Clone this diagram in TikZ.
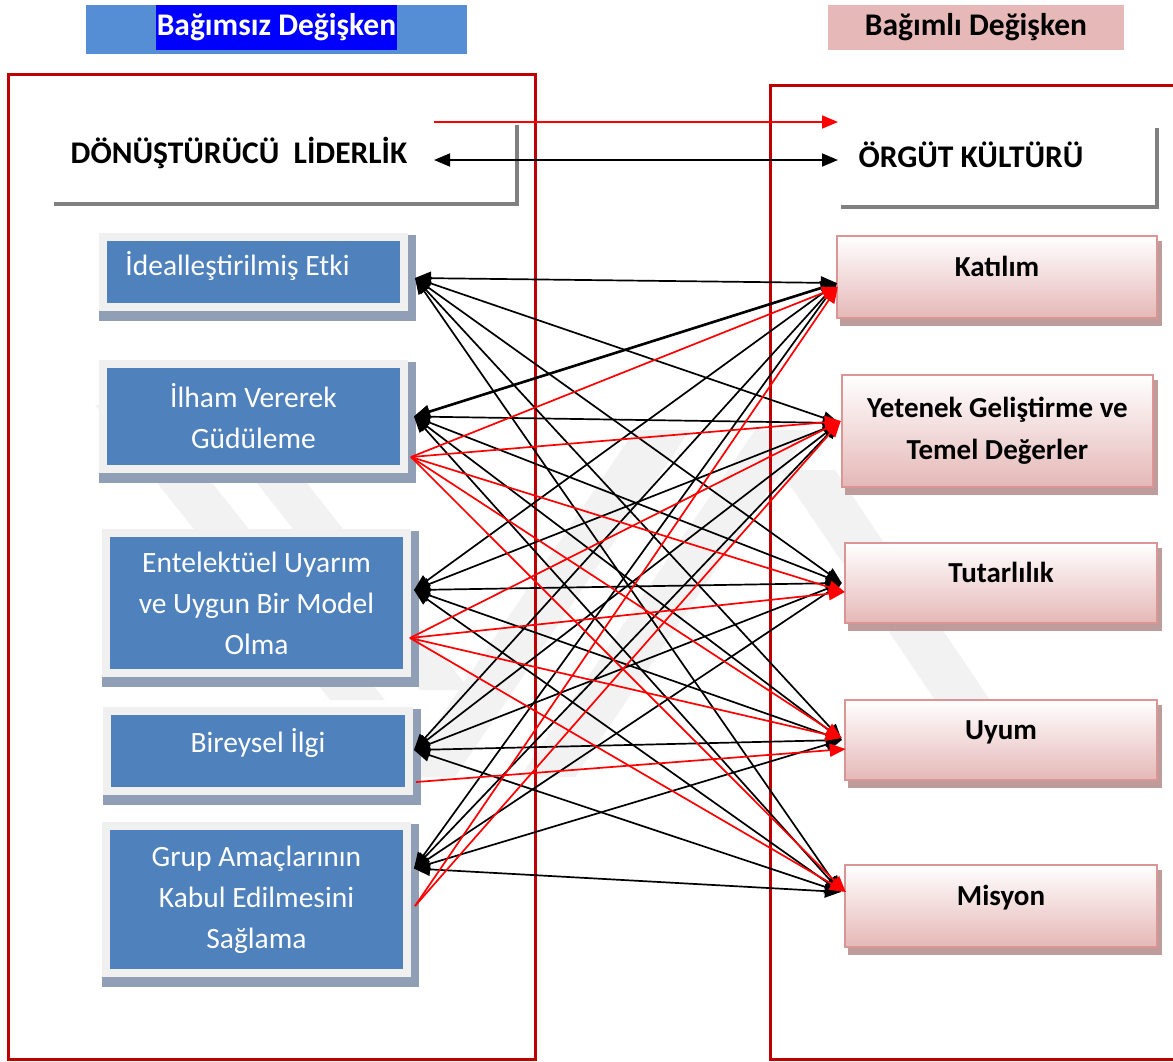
\documentclass[tikz,border=0pt]{standalone}
\usepackage{fontspec}
\setmainfont{Carlito}
\usetikzlibrary{arrows.meta,calc}
\definecolor{framered}{HTML}{C00000}
\definecolor{hdrblue}{HTML}{558ED5}
\definecolor{hlblue}{HTML}{0000FF}
\definecolor{hdrpink}{HTML}{E6B9B8}
\definecolor{boxblue}{HTML}{4F81BD}
\definecolor{framegray}{HTML}{F0F0F0}
\definecolor{shadowblue}{HTML}{909FB5}
\definecolor{pinkbot}{HTML}{E5B8B7}
\definecolor{pinkline}{HTML}{D99694}
\definecolor{pinkshadow}{HTML}{BE9C9C}
\definecolor{wmgray}{HTML}{F2F2F2}
\definecolor{brgray}{HTML}{808080}
\pgfdeclarelayer{wmk}
\pgfdeclarelayer{shd}
\pgfsetlayers{wmk,shd,main}
\begin{document}
\begin{tikzpicture}[x=1pt,y=-1pt,
  lbox/.style={draw=framegray, line width=8pt, fill=boxblue, text=white, align=center,
    font=\fontsize{29.5}{41}\selectfont, minimum width=301pt, inner sep=0pt},
  rbox/.style={draw=pinkline, line width=2.5pt, top color=white, bottom color=pinkbot,
    align=center, font=\bfseries\fontsize{29}{42}\selectfont, inner sep=0pt},
  title/.style={font=\bfseries\fontsize{31.5}{36}\selectfont, inner sep=0pt},
  blk/.style={line width=1.7pt, black, {Triangle[length=16pt,width=13pt]}-{Triangle[length=16pt,width=13pt]}},
  rd/.style={line width=1.7pt, red, -{Triangle[length=16pt,width=13pt]}},
  bracket/.style={draw=brgray, line width=4pt},
  frm/.style={draw=framered, line width=3pt},
]
\useasboundingbox (0,0) rectangle (1173,1061);

% watermark
\begin{pgfonlayer}{wmk}
  \fill[wmgray] (95,405) -- (150,405) -- (385,700) -- (330,700) -- cycle;
  \fill[wmgray] (215,430) -- (265,430) -- (470,690) -- (420,690) -- cycle;
  \fill[wmgray] (400,777) -- (455,777) -- (690,430) -- (635,430) -- cycle;
  \fill[wmgray] (520,777) -- (575,777) -- (810,430) -- (755,430) -- cycle;
  \fill[wmgray] (780,470) -- (835,470) -- (1000,715) -- (945,715) -- cycle;
\end{pgfonlayer}

% header labels
\node[fill=hdrblue, minimum width=381pt, minimum height=49pt, inner sep=0pt] (hb1) at (276.5,29.5) {};
\node[fill=hlblue, text=white, font=\bfseries\fontsize{31.5}{36}\selectfont, inner xsep=1pt, inner ysep=0pt,
  minimum height=45pt] (hl1) at (276.5,27.5) {Bağımsız Değişken};
\node[fill=hdrpink, minimum width=296pt, minimum height=45pt, inner sep=0pt,
  font=\bfseries\fontsize{31.5}{36}\selectfont] (hb2) at (976,27.5) {Bağımlı Değişken};

% red frames
\draw[frm] (8,74) rectangle (535,1059);
\draw[frm] (1180,85) -- (770,85) -- (770,1059) -- (1180,1059);

% titles
\node[title] (tl) at (239,153) {DÖNÜŞTÜRÜCÜ\ \ LİDERLİK};
\node[title] (tr) at (971,155) {ÖRGÜT KÜLTÜRÜ};
\draw[bracket] (54,204) -- (517,204) -- (517,125);
\draw[bracket] (841,207) -- (1157,207) -- (1157,128);

\coordinate (ta) at (434,122);
\coordinate (tb) at (838,122);
\coordinate (tc) at (434,160);
\coordinate (td) at (838,160);
\draw[rd] (ta) -- (tb);
\draw[blk] (tc) -- (td);

% left boxes
\node[lbox, minimum height=70pt, text height=22pt, text depth=16pt] (l1) at (253.5,272) {İdealleştirilmiş Etki\hspace*{32pt}};
\node[lbox, minimum height=105pt] (l2) at (253.5,416.5) {İlham Vererek\\Güdüleme};
\node[lbox, minimum height=140pt] (l3) at (256.5,603) {Entelektüel Uyarım\\ve Uygun Bir Model\\Olma};
\node[lbox, minimum height=80pt, minimum width=302pt, text height=22pt, text depth=20pt] (l4) at (258,751) {Bireysel İlgi};
\node[lbox, minimum height=147pt] (l5) at (256.5,899.5) {Grup Amaçlarının\\Kabul Edilmesini\\Sağlama};

% right boxes
\node[rbox, minimum width=320pt, minimum height=82pt, text height=20pt, text depth=22pt] (r1) at (997,277) {Katılım};
\node[rbox, minimum width=311pt, minimum height=112pt] (r2) at (997.5,431) {Yetenek Geliştirme ve\\Temel Değerler};
\node[rbox, minimum width=312pt, minimum height=80pt, text height=20pt, text depth=22pt] (r3) at (1001,583) {Tutarlılık};
\node[rbox, minimum width=312pt, minimum height=80pt, text height=20pt, text depth=22pt] (r4) at (1001,740) {Uyum};
\node[rbox, minimum width=312pt, minimum height=82pt, text height=20pt, text depth=22pt] (r5) at (1001,906) {Misyon};

% shadows
\begin{pgfonlayer}{shd}
  \foreach \n in {l1,l2,l3,l4,l5}
    \fill[shadowblue] ($(\n.north west)+(0,2)$) rectangle ($(\n.south east)+(8,10)$);
  \foreach \n in {r1,r2,r3,r4,r5}
    \fill[pinkshadow] ($(\n.north west)+(4,6)$) rectangle ($(\n.south east)+(4,7)$);
\end{pgfonlayer}

% connector end points
\coordinate (L1) at ($(l1.east)+(7,6)$);
\coordinate (L2) at ($(l2.east)+(6,0)$);
\coordinate (L3) at ($(l3.east)+(3,-13)$);
\coordinate (L4) at ($(l4.east)+(1,-1)$);
\coordinate (L5) at ($(l5.east)+(3,-31)$);
\coordinate (R1) at ($(r1.west)+(1,6)$);
\coordinate (R2) at ($(r2.west)+(-2,-8)$);
\coordinate (R3) at ($(r3.west)+(-2,0)$);
\coordinate (R4) at ($(r4.west)+(-2,0)$);
\coordinate (R5) at ($(r5.west)+(-3,-14)$);

\coordinate (P2) at ($(l2.east)+(3,40.5)$);
\coordinate (P3) at ($(l3.east)+(-1,35)$);
\coordinate (P4) at ($(l4.east)+(3,31)$);
\coordinate (P5) at ($(l5.east)+(4,6.5)$);
\coordinate (Q1) at ($(r1.west)+(2,10)$);
\coordinate (Q2) at ($(r2.west)+(0,-10)$);
\coordinate (Q3) at ($(r3.west)+(1,9)$);
\coordinate (Q4) at ($(r4.west)+(-2,-2)$);
\coordinate (Q4b) at ($(r4.west)+(2,9)$);
\coordinate (Q5) at ($(r5.west)+(2,-14)$);

% black two-way connectors
\foreach \a in {1,...,5}
  \foreach \b in {1,...,5}
    \draw[blk] (L\a) -- (R\b);
\draw[blk, line width=2.6pt] (L2) -- (R1);

% red one-way connectors
\foreach \b in {Q1,Q2,Q3,Q4,Q5} \draw[rd] (P2) -- (\b);
\foreach \b in {Q2,Q3,Q4,Q5} \draw[rd] (P3) -- (\b);
\draw[rd] (P4) -- (Q4b);
\foreach \b in {Q1,Q2} \draw[rd] (P5) -- (\b);
\end{tikzpicture}
\end{document}
